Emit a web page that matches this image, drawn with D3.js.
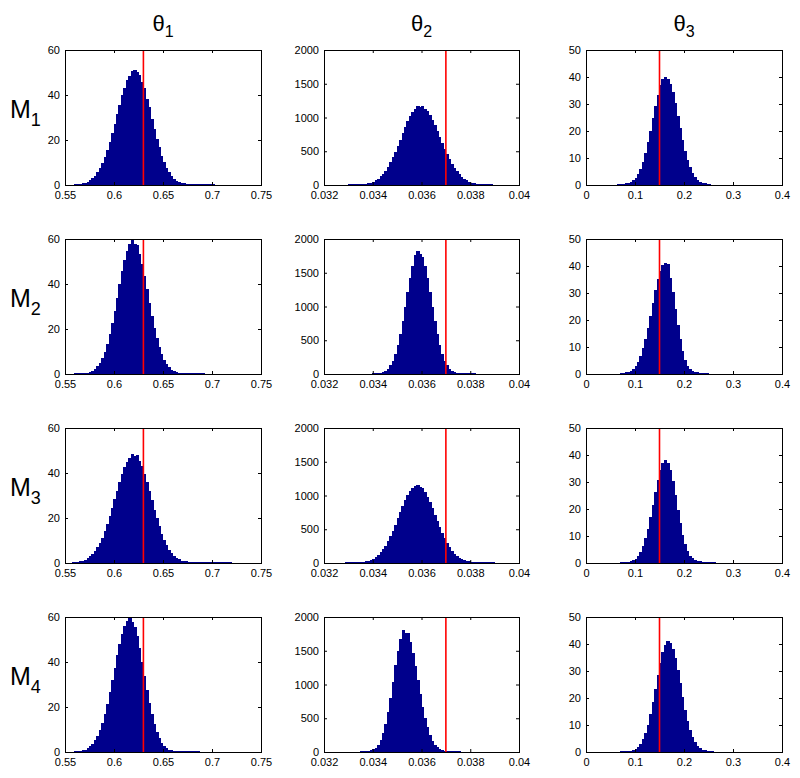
<!DOCTYPE html>
<html>
<head>
<meta charset="utf-8">
<script src="https://cdn.jsdelivr.net/npm/d3@7"></script>
<style>
body{margin:0;background:#fff;}
svg{display:block;font-family:"Liberation Sans",Arial,Helvetica,sans-serif;}
</style>
</head>
<body>
<svg id="chart" width="800" height="778"></svg>
<script>
// labels
const paramSubs = ['1','2','3'];
const modelSubs = ['1','2','3','4'];
const trueValues = [0.63, 0.037, 0.15];

const xDomains = [[0.55,0.75],[0.032,0.04],[0,0.4]];
const yDomains = [[0,60],[0,2000],[0,50]];
const xTicks = [[0.55,0.6,0.65,0.7,0.75],[0.032,0.034,0.036,0.038,0.04],[0,0.1,0.2,0.3,0.4]];
const xTickLabels = [['0.55','0.6','0.65','0.7','0.75'],['0.032','0.034','0.036','0.038','0.04'],['0','0.1','0.2','0.3','0.4']];
const yTicks = [[0,20,40,60],[0,500,1000,1500,2000],[0,10,20,30,40,50]];

// histogram bins: width per parameter, first edge per model/parameter
const binWidths = [0.0025, 0.0001, 0.005];
const binStarts = [
  [0.56, 0.033, 0.065],
  [0.56, 0.034, 0.07],
  [0.5575, 0.0329, 0.07],
  [0.56, 0.0335, 0.07]
];

// counts
const countsM1T1 = [0.3,0.4,0.5,0.7,1,1.5,2.2,3,4.2,5.8,7.4,9.8,12.3,15.6,19,23.2,27,31.6,35.4,39.9,43.2,46.8,48.6,50.6,50.9,50.2,49.1,45.9,43.1,38.4,34.5,29.2,25.1,20.3,16.8,12.9,10.2,7.5,5.6,3.9,2.8,1.9,1.3,0.9,0.7,0.5,0.4,0.3,0.3,0.2,0.2,0.2,0.1,0.15,0.1,0.1,0.1,0];
const countsM2T1 = [0.2,0.3,0.3,0.3,0.4,0.6,0.9,1.5,2.3,3.5,5.1,7.2,10,13.5,17.7,22.7,28.1,34,39.9,45.6,50.7,54.8,57.9,59.4,57.8,57.5,53.3,48.8,43.4,37.6,31.6,25.9,20.6,15.9,12,8.8,6.3,4.4,2.9,1.9,1.2,0.8,0.6,0.5,0.4,0.4,0.3,0.3,0.2,0.2,0.2,0.15,0.1,0,0,0,0,0];
const countsM3T1 = [0.3,0.3,0.5,0.7,1,1.5,2.1,2.9,4,5.3,7,9,11.3,14.1,17.3,20.7,24.4,28.3,32.1,35.9,39.4,42.5,45,46.8,48.3,47.6,47.9,45.5,43,39.7,36,32,27.9,23.7,19.9,16.3,13,10.2,7.9,5.9,4.4,3.2,2.3,1.6,1.1,0.8,0.7,0.6,0.6,0.5,0.4,0.35,0.3,0.3,0.25,0.2,0.3,0.2,0.1,0.15,0.1,0.1,0.1,0.15,0.1,0];
const countsM4T1 = [0.3,0.3,0.4,0.7,1.1,1.7,2.5,3.6,5.2,7.2,9.9,13.1,17,21.5,26.5,31.9,37.5,43,48,52.5,55.9,58.1,59.6,57.8,55.7,51.6,46.3,40.2,33.9,27.6,21.8,16.7,12.4,8.9,6.2,4.1,2.7,1.7,1.1,0.7,0.5,0.4,0.3,0.3,0.2,0.2,0.15,0.1,0.15,0.1,0.1,0,0,0,0,0,0,0];

const countsM1T2 = [8,10,10,11,12,13,16,20,26,37,51,71,96,127,166,214,271,336,410,492,580,672,765,856,942,1019,1082,1130,1175,1150,1172,1120,1090,1033,963,883,798,710,621,536,455,380,312,253,201,158,122,93,70,51,37,27,22,18,15,13,12,10,8];
const countsM2T2 = [12,15,18,22,30,47,80,129,200,299,429,591,782,994,1214,1425,1606,1760,1825,1780,1740,1606,1425,1214,994,782,591,429,299,200,129,80,47,30,22,18,15,12,10,14,10,6];
const countsM3T2 = [8,10,12,13,13,15,17,20,25,33,46,64,87,117,156,202,258,323,397,478,567,660,754,846,932,1009,1071,1117,1143,1160,1125,1110,1048,979,898,810,717,622,531,445,366,295,234,183,140,105,78,55,40,28,23,20,17,15,14,12,12,10,10,9,6];
const countsM4T2 = [10,14,16,20,25,38,61,107,176,277,416,594,807,1044,1283,1503,1676,1810,1760,1770,1632,1472,1278,1071,864,671,504,364,253,170,110,68,41,28,20,16,14,12,13,8,5];

const countsM1T3 = [0.3,0.4,0.5,0.6,0.8,1.2,1.7,2.7,4.1,6.1,8.7,11.9,15.8,20.1,24.7,29.3,33.5,36.9,39.1,40,39.4,37.4,34.3,30.2,25.7,21,16.6,12.6,9.2,6.5,4.4,2.9,1.8,1.2,0.8,0.6,0.5,0.3];
const countsM2T3 = [0.4,0.5,0.6,0.8,1.2,1.9,3,4.5,6.7,9.5,12.9,17,21.5,26.3,31,35.1,38.3,40.4,41,40.8,35.7,30.4,24.2,18.2,12.8,8.5,5.3,3.1,2,1.2,0.8,0.6,0.5,0.4,0.3,0.2];
const countsM3T3 = [0.3,0.4,0.5,0.5,0.7,1,1.6,2.6,4.2,6.3,9.2,12.7,16.9,21.6,26.4,30.9,34.5,37,38,37.2,34.5,30.3,25.2,19.8,14.8,10.5,7,4.5,2.7,1.7,1,0.7,0.6,0.5,0.4,0.3,0.3,0.2,0.2];
const countsM4T3 = [0.2,0.3,0.3,0.4,0.5,0.7,1.1,1.8,3,4.7,7.1,10.1,13.9,18.4,23.3,28.4,33.1,37.1,39.8,41,40.5,38.3,34.8,30.3,25.4,20.3,15.6,11.6,8.2,5.5,3.6,2.2,1.4,0.9,0.7,0.5,0.4,0.2];

const counts = [
  [countsM1T1, countsM1T2, countsM1T3],
  [countsM2T1, countsM2T2, countsM2T3],
  [countsM3T1, countsM3T2, countsM3T3],
  [countsM4T1, countsM4T2, countsM4T3]
];

// layout
const colX = [65, 324, 586];
const colW = [196, 195, 196];
const rowY = [50, 239, 428, 617];
const plotH = 135;
const barColor = '#00008c';
const fontFam = '"Liberation Sans",Arial,Helvetica,sans-serif';

const svg = d3.select('#chart');

// column titles
paramSubs.forEach((s,c)=>{
  const t = svg.append('text')
    .attr('x', colX[c] + colW[c]/2)
    .attr('y', 31)
    .attr('text-anchor','middle')
    .attr('fill','#000');
  t.append('tspan').attr('font-size',22).text('θ');
  t.append('tspan').attr('font-size',16).attr('dy',6).text(s);
});

// row labels
modelSubs.forEach((s,r)=>{
  const t = svg.append('text')
    .attr('x', 10)
    .attr('y', rowY[r] + 68)
    .attr('fill','#000');
  t.append('tspan').attr('font-size',25).text('M');
  t.append('tspan').attr('font-size',18).attr('dy',8).text(s);
});

modelSubs.forEach((m,r)=>{
  paramSubs.forEach((p,c)=>{
    const g = svg.append('g').attr('transform',`translate(${colX[c]},${rowY[r]})`);
    const x = d3.scaleLinear().domain(xDomains[c]).range([0, colW[c]]);
    const y = d3.scaleLinear().domain(yDomains[c]).range([plotH, 0]);

    const w = binWidths[c], s0 = binStarts[r][c];
    const bins = counts[r][c].map((v,i)=>({x0: s0 + i*w, x1: s0 + (i+1)*w, v}));

    // solid bars: snap to whole pixels so neighbours join without seams,
    // and keep the thin tails at least one pixel tall
    const top = d=>Math.min(Math.round(y(d.v)), plotH - 1);
    g.selectAll('rect.bar')
      .data(bins.filter(d=>d.v>0))
      .enter()
      .append('rect')
      .attr('class','bar')
      .attr('x', d=>Math.floor(x(d.x0)))
      .attr('width', d=>Math.ceil(x(d.x1)) - Math.floor(x(d.x0)))
      .attr('y', top)
      .attr('height', d=>plotH - top(d))
      .attr('fill', barColor)
      .attr('shape-rendering','crispEdges');

    // true value
    const tx = x(trueValues[c]);
    g.append('line')
      .attr('x1', tx).attr('x2', tx)
      .attr('y1', 0).attr('y2', plotH)
      .attr('stroke','#ff0000')
      .attr('stroke-width',1.6);

    const xa = d3.axisBottom(x).tickValues(xTicks[c])
      .tickFormat((d,i)=>xTickLabels[c][i])
      .tickSizeInner(-3).tickSizeOuter(0).tickPadding(6);
    const ya = d3.axisLeft(y).tickValues(yTicks[c])
      .tickFormat(d=>String(d))
      .tickSizeInner(-3).tickSizeOuter(0).tickPadding(5);
    const xt = d3.axisTop(x).tickValues(xTicks[c]).tickFormat('')
      .tickSizeInner(-3).tickSizeOuter(0);
    const yr = d3.axisRight(y).tickValues(yTicks[c]).tickFormat('')
      .tickSizeInner(-3).tickSizeOuter(0);

    const styleAxis = a => {
      a.select('.domain').remove();
      a.attr('font-family', fontFam).attr('font-size', 11).attr('color','#000');
    };
    g.append('g').attr('transform',`translate(0,${plotH})`).call(xa).call(styleAxis);
    g.append('g').call(ya).call(styleAxis);
    g.append('g').call(xt).call(styleAxis);
    g.append('g').attr('transform',`translate(${colW[c]},0)`).call(yr).call(styleAxis);

    g.append('rect')
      .attr('x',0.5).attr('y',0.5)
      .attr('width',colW[c]).attr('height',plotH)
      .attr('fill','none')
      .attr('stroke','#000')
      .attr('stroke-width',1);
  });
});
</script>
</body>
</html>
